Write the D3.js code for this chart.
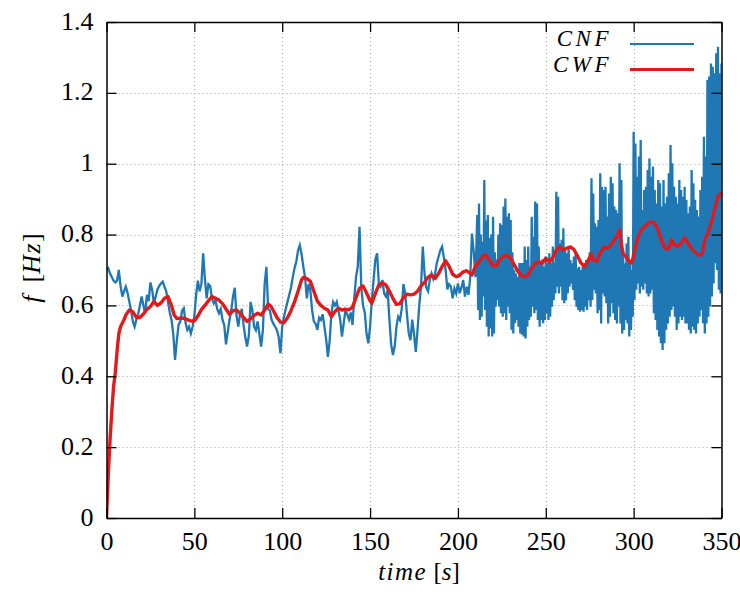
<!DOCTYPE html>
<html>
<head>
<meta charset="utf-8">
<script src="https://cdn.jsdelivr.net/npm/d3@7"></script>
<style>
  html, body { margin: 0; padding: 0; background: #fff; }
  svg { display: block; }
  text { font-family: "Liberation Serif", "DejaVu Serif", serif; fill: #000; }
</style>
</head>
<body>
<svg id="chart" width="740" height="594"></svg>
<script>
// ---------------- data ----------------
const xTicks = [0, 50, 100, 150, 200, 250, 300, 350];
const yTicks = [0, 0.2, 0.4, 0.6, 0.8, 1, 1.2, 1.4];
const yTickLabels = ["0", "0.2", "0.4", "0.6", "0.8", "1", "1.2", "1.4"];
const seriesNames = ["CNF", "CWF"];

// CNF, sampled every 1 s from t = 0 to t = 210
const cnfStart = 0;
const cnfEarly = [
  0.70, 0.705, 0.69, 0.68, 0.67, 0.665, 0.67, 0.70, 0.655, 0.625,
  0.64, 0.653, 0.635, 0.61, 0.585, 0.555, 0.54, 0.56, 0.575, 0.60,
  0.625, 0.60, 0.578, 0.63, 0.612, 0.665, 0.643, 0.606, 0.625, 0.645,
  0.655, 0.662, 0.667, 0.653, 0.64, 0.61, 0.58, 0.56, 0.52, 0.446,
  0.50, 0.545, 0.555, 0.585, 0.592, 0.55, 0.531, 0.54, 0.521, 0.54,
  0.57, 0.63, 0.67, 0.64, 0.66, 0.747, 0.675, 0.62, 0.66, 0.655,
  0.62, 0.606, 0.615, 0.59, 0.578, 0.59, 0.56, 0.545, 0.49, 0.525,
  0.559, 0.587, 0.625, 0.65, 0.57, 0.54, 0.575, 0.59, 0.545, 0.51,
  0.484, 0.515, 0.61, 0.587, 0.54, 0.53, 0.555, 0.52, 0.484, 0.53,
  0.66, 0.709, 0.59, 0.585, 0.559, 0.548, 0.54, 0.53, 0.51, 0.465,
  0.54, 0.568, 0.59, 0.61, 0.63, 0.65, 0.68, 0.705, 0.723, 0.755,
  0.77, 0.745, 0.71, 0.68, 0.62, 0.66, 0.643, 0.587, 0.555, 0.549,
  0.531, 0.565, 0.559, 0.575, 0.54, 0.505, 0.455, 0.50, 0.578, 0.61,
  0.60, 0.61, 0.585, 0.56, 0.512, 0.55, 0.587, 0.575, 0.56, 0.58,
  0.545, 0.62, 0.68, 0.709, 0.822, 0.65, 0.60, 0.58, 0.52, 0.493,
  0.54, 0.615, 0.672, 0.73, 0.747, 0.66, 0.653, 0.672, 0.634, 0.625,
  0.643, 0.56, 0.49, 0.46, 0.484, 0.54, 0.568, 0.559, 0.59, 0.66,
  0.634, 0.575, 0.521, 0.502, 0.56, 0.52, 0.469, 0.53, 0.60, 0.653,
  0.766, 0.69, 0.65, 0.64, 0.672, 0.69, 0.675, 0.69, 0.72, 0.738,
  0.756, 0.766, 0.735, 0.70, 0.645, 0.66, 0.653, 0.62, 0.648, 0.634,
  0.662, 0.635, 0.65, 0.672, 0.625, 0.653, 0.63, 0.68, 0.803, 0.75,
  0.68
];

// CNF from t = 211 s to 350 s: highest value reached in each second (at t)
// and lowest value (at t + 0.5 s)
const cnfLateStart = 211;
const cnfHigh = [
  0.855, 0.888, 0.80, 0.78, 0.954, 0.84, 0.855, 0.79, 0.80, 0.85,
  0.75, 0.73, 0.80, 0.832, 0.827, 0.879, 0.902, 0.85, 0.86, 0.841,
  0.75, 0.70, 0.69, 0.68, 0.72, 0.72, 0.72, 0.766, 0.728, 0.766,
  0.71, 0.85, 0.794, 0.893, 0.888, 0.766, 0.72, 0.73, 0.71, 0.738,
  0.72, 0.747, 0.72, 0.766, 0.72, 0.921, 0.907, 0.775, 0.785, 0.818,
  0.76, 0.747, 0.766, 0.728, 0.719, 0.738, 0.747, 0.705, 0.709, 0.70,
  0.709, 0.719, 0.728, 0.733, 0.75, 0.959, 0.916, 0.832, 0.822, 0.841,
  0.973, 0.935, 0.926, 0.935, 0.851, 0.916, 0.963, 0.945, 0.879, 0.869,
  0.86, 1.001, 0.954, 0.756, 0.719, 0.775, 0.794, 0.728, 0.70, 1.09,
  1.057, 0.963, 1.02, 1.067, 0.869, 0.926, 0.935, 0.982, 1.015, 0.963,
  0.992, 0.926, 0.888, 0.954, 0.945, 0.879, 0.954, 0.888, 0.907, 0.973,
  1.053, 1.001, 0.935, 0.907, 0.888, 0.954, 0.926, 0.907, 0.935, 0.898,
  0.86, 0.879, 0.982, 0.945, 0.898, 0.869, 0.851, 0.926, 0.963, 1.076,
  1.02, 1.236, 1.246, 1.283, 1.274, 1.255, 1.312, 1.33, 1.255, 1.283
];
const cnfLow = [
  0.587, 0.559, 0.568, 0.625, 0.587, 0.540, 0.512, 0.535, 0.512, 0.521,
  0.596, 0.615, 0.596, 0.578, 0.568, 0.578, 0.559, 0.596, 0.578, 0.531,
  0.521, 0.55, 0.559, 0.540, 0.521, 0.517, 0.512, 0.507, 0.540, 0.559,
  0.568, 0.596, 0.578, 0.587, 0.559, 0.540, 0.559, 0.55, 0.559, 0.578,
  0.559, 0.568, 0.596, 0.615, 0.634, 0.653, 0.634, 0.653, 0.615, 0.606,
  0.615, 0.634, 0.653, 0.662, 0.644, 0.615, 0.596, 0.587, 0.582, 0.587,
  0.582, 0.596, 0.587, 0.615, 0.596, 0.615, 0.644, 0.634, 0.578, 0.587,
  0.549, 0.634, 0.625, 0.606, 0.549, 0.568, 0.606, 0.578, 0.559, 0.549,
  0.597, 0.549, 0.521, 0.531, 0.559, 0.549, 0.512, 0.531, 0.568, 0.615,
  0.644, 0.662, 0.634, 0.653, 0.644, 0.662, 0.634, 0.625, 0.634, 0.644,
  0.578, 0.559, 0.531, 0.512, 0.493, 0.474, 0.493, 0.531, 0.549, 0.568,
  0.587, 0.597, 0.568, 0.531, 0.549, 0.568, 0.559, 0.568, 0.549, 0.549,
  0.531, 0.521, 0.540, 0.531, 0.521, 0.549, 0.568, 0.587, 0.55, 0.521,
  0.549, 0.568, 0.597, 0.625, 0.662, 0.719, 0.700, 0.644, 0.634, 0.65
];

// CWF: [time (s), frequency (Hz)]
const cwfTime = [
  0, 1, 2, 3, 4, 5, 6, 7, 8, 10, 11, 13, 15, 17, 19, 21, 23, 25, 27, 29,
  31, 33, 35, 37, 38.5, 40, 42, 44, 46, 48, 50, 52, 54, 56, 58, 60, 62, 64, 66, 68,
  70, 72, 74, 76, 78, 80, 82, 84, 86, 88, 90, 92, 93.5, 95, 97, 99, 101, 103, 105, 107,
  109, 111, 112, 114, 116, 118, 120, 122, 124, 126, 128, 130, 132, 134, 136, 138, 140, 142, 144, 146,
  148, 150, 151, 153, 155, 157, 159, 161, 163, 165, 167, 169, 171, 173, 175, 177, 179, 181, 183, 185,
  187, 189, 191, 193, 195, 197, 199, 201, 203, 205, 207, 208, 210, 212, 214, 216, 218, 220, 222, 224,
  226, 228, 230, 232, 234, 236, 238, 240, 242, 244, 246, 248, 250, 252, 254, 256, 258, 260, 262, 264,
  266, 268, 270, 272, 274, 276, 277, 279, 281, 283, 285, 287, 289, 291, 292, 293, 294, 296, 298, 299,
  301, 303, 305, 307, 309, 310, 312, 314, 316, 318, 320, 321.5, 323, 325, 327, 329, 331, 333, 335, 337,
  339, 340.5, 342, 344, 346, 348, 350
];
const cwfValue = [
  0, 0.12, 0.22, 0.30, 0.37, 0.41, 0.47, 0.52, 0.54, 0.56, 0.573, 0.587, 0.582, 0.566, 0.566, 0.576, 0.589, 0.597, 0.611, 0.600,
  0.607, 0.62, 0.625, 0.60, 0.573, 0.563, 0.564, 0.564, 0.56, 0.556, 0.556, 0.57, 0.588, 0.60, 0.613, 0.625, 0.62, 0.615, 0.605, 0.59,
  0.575, 0.585, 0.587, 0.578, 0.566, 0.555, 0.562, 0.572, 0.578, 0.573, 0.587, 0.604, 0.598, 0.585, 0.566, 0.553, 0.551, 0.565, 0.585, 0.61,
  0.64, 0.672, 0.679, 0.676, 0.668, 0.64, 0.612, 0.60, 0.592, 0.587, 0.568, 0.583, 0.592, 0.587, 0.589, 0.588, 0.595, 0.622, 0.648, 0.655,
  0.635, 0.613, 0.606, 0.634, 0.658, 0.664, 0.658, 0.64, 0.62, 0.603, 0.605, 0.622, 0.632, 0.63, 0.632, 0.64, 0.655, 0.665, 0.68, 0.686,
  0.676, 0.69, 0.71, 0.726, 0.71, 0.688, 0.681, 0.685, 0.695, 0.698, 0.69, 0.686, 0.712, 0.723, 0.738, 0.742, 0.727, 0.713, 0.713, 0.73,
  0.74, 0.741, 0.733, 0.715, 0.697, 0.685, 0.681, 0.686, 0.705, 0.718, 0.723, 0.719, 0.733, 0.723, 0.735, 0.757, 0.765, 0.756, 0.762, 0.765,
  0.758, 0.74, 0.72, 0.71, 0.725, 0.745, 0.728, 0.725, 0.748, 0.764, 0.761, 0.77, 0.785, 0.80, 0.813, 0.775, 0.745, 0.735, 0.722, 0.72,
  0.765, 0.80, 0.816, 0.826, 0.834, 0.836, 0.832, 0.812, 0.782, 0.76, 0.76, 0.785, 0.772, 0.766, 0.775, 0.79, 0.775, 0.76, 0.75, 0.742,
  0.745, 0.785, 0.80, 0.83, 0.869, 0.907, 0.918
];

// ---------------- chart ----------------
const svg = d3.select("#chart");
const x = d3.scaleLinear().domain([0, 350]).range([106.5, 721.5]);
const y = d3.scaleLinear().domain([0, 1.4]).range([518, 22]);
const blue = "#1f77b4", red = "#e31a1c";

const cnfPoints = cnfEarly.map((v, i) => [cnfStart + i, v]);
cnfHigh.forEach((v, i) => {
  cnfPoints.push([cnfLateStart + i, v]);
  cnfPoints.push([cnfLateStart + i + 0.5, cnfLow[i]]);
});
const cwfPoints = cwfTime.map((t, i) => [t, cwfValue[i]]);

// grid
const grid = svg.append("g").attr("stroke", "#a0a0a0").attr("stroke-width", 1)
  .attr("stroke-dasharray", "1,3");
grid.selectAll(".gx").data(xTicks.slice(1, -1)).join("line")
  .attr("x1", d => Math.round(x(d)) + 0.5).attr("x2", d => Math.round(x(d)) + 0.5)
  .attr("y1", y(0)).attr("y2", y(1.4));
grid.selectAll(".gy").data(yTicks.slice(1, -1)).join("line")
  .attr("y1", d => Math.round(y(d)) + 0.5).attr("y2", d => Math.round(y(d)) + 0.5)
  .attr("x1", x(0)).attr("x2", x(350));

// clip
svg.append("clipPath").attr("id", "clip").append("rect")
  .attr("x", x(0)).attr("y", y(1.4)).attr("width", x(350) - x(0)).attr("height", y(0) - y(1.4));

const line = d3.line().x(d => x(d[0])).y(d => y(d[1]));
const plot = svg.append("g").attr("clip-path", "url(#clip)");
plot.append("path").datum(cnfPoints).attr("d", line)
  .attr("fill", "none").attr("stroke", blue).attr("stroke-width", 2.3).attr("stroke-linejoin", "miter");
plot.append("path").datum(cwfPoints).attr("d", line)
  .attr("fill", "none").attr("stroke", red).attr("stroke-width", 3.4).attr("stroke-linejoin", "round");

// axes (gnuplot style: ticks inside, mirrored)
const tickLen = 10;
const axB = svg.append("g").attr("transform", `translate(0,${y(0)})`)
  .call(d3.axisBottom(x).tickValues(xTicks).tickSizeInner(-tickLen).tickSizeOuter(0).tickPadding(14).tickFormat(d3.format("d")));
const axT = svg.append("g").attr("transform", `translate(0,${y(1.4)})`)
  .call(d3.axisTop(x).tickValues(xTicks).tickSizeInner(-tickLen).tickSizeOuter(0).tickFormat(""));
const axL = svg.append("g").attr("transform", `translate(${x(0)},0)`)
  .call(d3.axisLeft(y).tickValues(yTicks).tickSizeInner(-tickLen).tickSizeOuter(0).tickPadding(14)
    .tickFormat((d, i) => yTickLabels[i]));
const axR = svg.append("g").attr("transform", `translate(${x(350)},0)`)
  .call(d3.axisRight(y).tickValues(yTicks).tickSizeInner(-tickLen).tickSizeOuter(0).tickFormat(""));
[axB, axT, axL, axR].forEach(a => {
  a.select(".domain").attr("stroke", "#000").attr("stroke-width", 1.5);
  a.selectAll(".tick line").attr("stroke", "#000").attr("stroke-width", 1.3);
  a.selectAll("text").attr("font-family", "Liberation Serif").attr("font-size", 26).attr("fill", "#111");
});
axB.selectAll("text").attr("dy", null).attr("y", 32);
axL.selectAll("text").attr("dy", null).attr("x", -13).attr("y", 7);

// axis titles
const xt = svg.append("text").attr("x", 419).attr("y", 580).attr("text-anchor", "middle").attr("font-size", 25);
xt.append("tspan").attr("font-style", "italic").attr("letter-spacing", 1.5).text("time");
xt.append("tspan").text(" [");
xt.append("tspan").attr("font-style", "italic").text("s");
xt.append("tspan").text("]");

const yt = svg.append("text").attr("transform", "translate(40,268) rotate(-90)").attr("text-anchor", "middle").attr("font-size", 26);
yt.append("tspan").attr("font-style", "italic").text("f");
yt.append("tspan").text(" \u00a0[");
yt.append("tspan").attr("font-style", "italic").attr("letter-spacing", 1.5).text("Hz");
yt.append("tspan").text("]");

// legend
const legend = svg.append("g");
const legendRows = [
  { name: seriesNames[0], color: blue, ty: 45.5, ly: 44 },
  { name: seriesNames[1], color: red, ty: 71.5, ly: 69.5 }
];
legendRows.forEach(r => {
  legend.append("text").attr("x", 612).attr("y", r.ty).attr("text-anchor", "end")
    .attr("font-style", "italic").attr("font-size", 23).attr("letter-spacing", 3.5).text(r.name);
  legend.append("line").attr("x1", 630).attr("x2", 694).attr("y1", r.ly).attr("y2", r.ly)
    .attr("stroke", r.color).attr("stroke-width", r.color === red ? 3 : 2);
});
</script>
</body>
</html>
